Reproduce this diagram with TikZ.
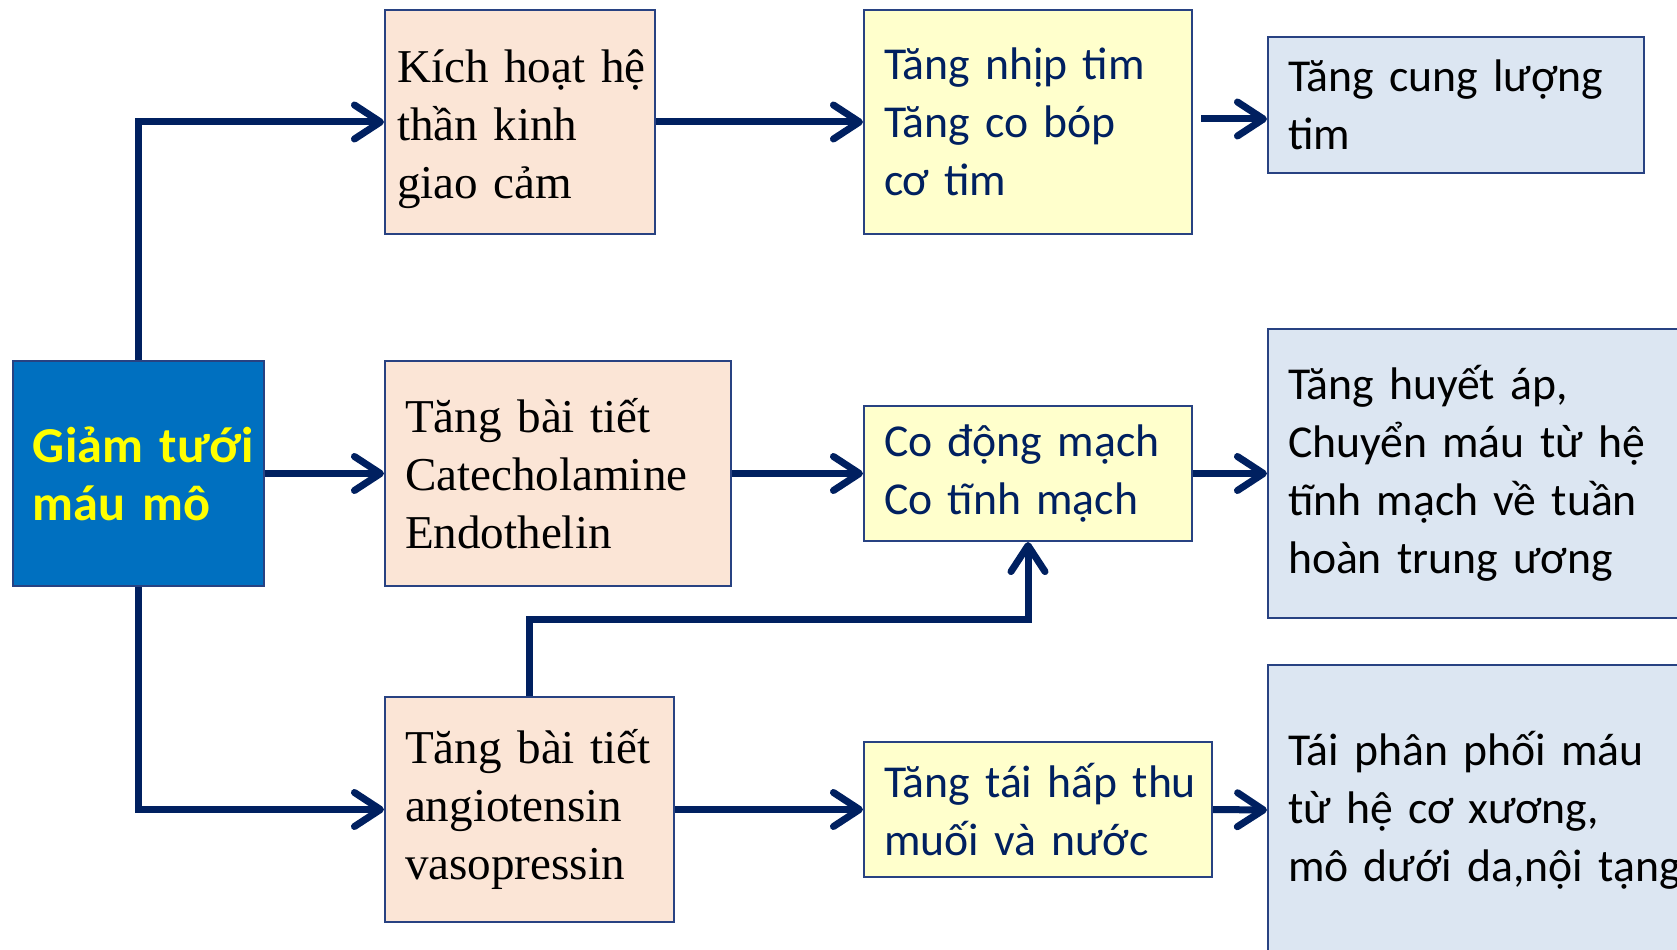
\documentclass[tikz,border=0pt]{standalone}
\usepackage{fontspec}
\setmainfont{Liberation Serif}
\newfontfamily\calibri{Carlito}
\usepackage{tikz}
\usetikzlibrary{arrows.meta}
\definecolor{navy}{RGB}{0,32,96}
\definecolor{edge}{RGB}{40,66,130}
\definecolor{deepblue}{RGB}{0,112,192}
\definecolor{yellowtext}{RGB}{255,255,0}
\definecolor{peach}{RGB}{251,229,214}
\definecolor{paleyellow}{RGB}{255,255,204}
\definecolor{paleblue}{RGB}{220,230,242}

\begin{document}
\begin{tikzpicture}[
    flow/.style={draw=navy, line width=0.07cm, -{Straight Barb[length=0.26cm,width=0.34cm,round]}},
    box/.style={draw=edge, line width=0.6pt, align=left, inner xsep=0.2cm, inner ysep=0pt},
    startbox/.style={box, fill=deepblue, text=yellowtext, font=\calibri\bfseries\fontsize{14.3}{16.5}\selectfont},
    srcbox/.style={box, fill=peach, font=\fontsize{13.4}{16.5}\selectfont},
    actbox/.style={box, fill=paleyellow, text=navy, font=\calibri\fontsize{13}{16.5}\selectfont},
    outbox/.style={box, fill=paleblue, font=\calibri\fontsize{13}{16.5}\selectfont}]
  \useasboundingbox (0,0) rectangle (16.77,-9.5);
  \clip (0,0) rectangle (16.77,-9.5);

  \node[startbox, minimum width=2.51cm, minimum height=2.25cm, text width=2.11cm] (giam) at (1.385,-4.735) {Giảm~tưới\\máu~mô};

  \node[srcbox, inner xsep=0.12cm, minimum width=2.70cm, minimum height=2.24cm, text width=2.46cm] (thankinh) at (5.20,-1.22) {\rule{0pt}{0.48cm}Kích~hoạt~hệ\\thần~kinh\\giao~cảm};
  \node[srcbox, minimum width=3.46cm, minimum height=2.25cm, text width=3.06cm] (catechol) at (5.58,-4.735) {Tăng~bài~tiết\\Catecholamine\\Endothelin};
  \node[srcbox, minimum width=2.89cm, minimum height=2.25cm, text width=2.49cm] (angio) at (5.295,-8.095) {Tăng~bài~tiết\\angiotensin\\vasopressin};

  \node[actbox, minimum width=3.28cm, minimum height=2.24cm, text width=2.88cm] (nhiptim) at (10.28,-1.22) {Tăng~nhịp~tim\\Tăng~co~bóp\\cơ~tim};
  \node[actbox, minimum width=3.28cm, minimum height=1.35cm, text width=2.88cm] (comach) at (10.28,-4.735) {Co~động~mạch\\Co~tĩnh~mạch};
  \node[actbox, minimum width=3.48cm, minimum height=1.35cm, text width=3.08cm] (taihapthu) at (10.38,-8.095) {Tăng~tái~hấp~thu\\muối~và~nước};

  \node[outbox, minimum width=3.76cm, minimum height=1.36cm, text width=3.36cm] (cungluong) at (14.56,-1.05) {Tăng~cung~lượng\\tim};
  \node[outbox, minimum width=4.54cm, minimum height=2.89cm, text width=4.14cm] (huyetap) at (14.95,-4.735) {Tăng~huyết~áp,\\Chuyển~máu~từ~hệ\\tĩnh~mạch~về~tuần\\hoàn~trung~ương};
  \node[outbox, minimum width=4.54cm, minimum height=2.90cm, text width=4.14cm] (phanphoi) at (14.95,-8.10) {Tái~phân~phối~máu\\từ~hệ~cơ~xương,\\mô~dưới~da,nội~tạng};

  \draw[flow] (giam.north) |- (thankinh.west);
  \draw[flow] (giam.east) -- (catechol.west);
  \draw[flow] (giam.south) |- (angio.west);
  \draw[flow] (thankinh.east) -- (nhiptim.west);
  \draw[flow] (catechol.east) -- (comach.west);
  \draw[flow] (angio.east) -- (taihapthu.west);
  \draw[flow] (angio.north) -- ++(0,0.76) -| (comach.south);
  \draw[flow, shorten <=0.08cm] ([yshift=0.03cm]nhiptim.east) -- ([yshift=0.03cm]nhiptim.east -| cungluong.west);
  \draw[flow] (comach.east) -- (huyetap.west);
  \draw[flow] (taihapthu.east) -- (phanphoi.west);
\end{tikzpicture}
\end{document}
